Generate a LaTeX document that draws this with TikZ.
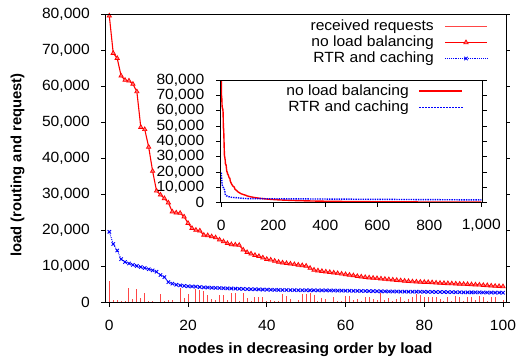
\documentclass[tikz,border=0pt]{standalone}
\usepackage{fontspec}
\newfontfamily\plotfont{Liberation Sans}[FakeStretch=1.055]
\newfontfamily\plotfontv{Liberation Sans}
\usetikzlibrary{plotmarks}

% load per node (thousands), nodes sorted by load
\def\redlist{79.7,69.3,67.9,63.0,61.8,61.6,60.7,58.6,48.7,48.1,43.2,36.5,31.0,29.9,28.9,27.7,25.2,24.9,24.8,23.8,22.0,20.6,20.1,19.9,18.7,18.6,18.3,18.0,17.4,16.9,16.4,16.1,16.0,15.9,14.6,13.9,13.5,13.1,12.8,12.4,12.0,11.8,11.5,11.2,11.0,10.85,10.7,10.55,10.4,10.25,10.1,9.5,9.0,8.8,8.65,8.5,8.35,8.2,8.05,7.9,7.75,7.6,7.45,7.25,7.1,6.95,6.85,6.75,6.65,6.55,6.45,6.35,6.25,6.15,6.05,5.95,5.85,5.75,5.7,5.65,5.6,5.55,5.5,5.4,5.35,5.3,5.25,5.2,5.15,5.1,5.05,5.0,4.95,4.9,4.85,4.75,4.7,4.6,4.5,4.45,4.4}
\def\bluelist{19.6,16.2,14.4,12.0,11.2,10.8,10.4,10.1,9.8,9.55,9.2,8.9,8.5,7.6,7.0,5.6,5.2,4.9,4.7,4.55,4.45,4.4,4.35,4.25,4.15,4.1,4.05,4.00,3.96,3.92,3.88,3.84,3.80,3.76,3.72,3.68,3.64,3.61,3.58,3.55,3.52,3.49,3.46,3.43,3.42,3.41,3.40,3.39,3.37,3.36,3.35,3.34,3.33,3.32,3.31,3.30,3.29,3.28,3.27,3.25,3.23,3.21,3.19,3.17,3.15,3.13,3.11,3.09,3.07,3.05,3.03,3.01,3.00,2.99,2.98,2.97,2.96,2.95,2.94,2.93,2.91,2.90,2.89,2.87,2.86,2.85,2.84,2.82,2.81,2.80,2.78,2.77,2.76,2.75,2.74,2.73,2.72,2.71,2.70,2.68,2.67}
\def\barlist{5.93,0.65,0.65,0.46,0.37,3.89,0.83,3.71,1.30,2.50,0.37,0.37,0.19,2.23,0.46,0.65,0.65,0.19,3.89,1.30,2.32,0.19,3.62,3.43,3.2,2.0,0.83,0.65,2.0,2.0,0.65,2.5,2.5,0.46,2.7,1.1,0.37,1.6,1.6,1.4,0.37,0.65,0.46,0.37,2.3,1.8,0.83,0.19,0.65,2.3,2.3,2.5,2.0,0.46,1.1,0.83,0.1,1.6,0.37,0.37,1.8,1.8,0.65,0.83,0.37,1.6,1.4,0.83,0.65,2.5,0.65,1.1,0.37,0.83,1.4,0.46,0.83,1.39,2.32,2.04,1.58,1.39,1.58,1.39,0.83,0.46,1.58,0.46,1.76,1.39,0.46,1.58,1.39,0.65,1.76,1.58,0.46,1.58,1.39,0.19,0.65}

\definecolor{barred}{RGB}{255,70,70}
\definecolor{trifill}{RGB}{255,120,120}

\begin{document}
\begin{tikzpicture}[x=1pt,y=1pt,
  every node/.style={inner sep=0pt, font=\plotfont\fontsize{14.8}{16}\selectfont},
  boldlabel/.style={font=\plotfont\bfseries\fontsize{14.8}{16}\selectfont},
  frame/.style={draw=black, line width=0.9pt},
  tick/.style={draw=black, line width=0.9pt},
  bar/.style={color=barred, line width=1pt},
  redline/.style={color=red, line width=1.1pt},
  blueline/.style={color=blue, line width=0.9pt, densely dotted},
  trimark/.style={color=red, line width=0.7pt, mark=triangle*, mark size=2.5pt,
    mark options={fill=trifill, draw=red, solid}},
  xmark/.style={color=blue, line width=0.9pt, mark=x, mark size=2.4pt, mark options={solid}},
  inred/.style={color=red, line width=1.4pt},
  inblue/.style={color=blue, line width=1.4pt, densely dotted},
  keydot/.style={fill=blue}]
\useasboundingbox (0,0) rectangle (517,361);

% ---------------- main plot ----------------
\begin{scope}[shift={(109.3,58.7)}, x=3.937pt, y=3.595pt]
  % received requests (impulses)
  \foreach \v [count=\i from 0] in \barlist { \draw[bar] (\i,0) -- (\i,\v); }
  % no load balancing
  \draw[redline] (0,79.7) \foreach \v [count=\i from 0] in \redlist { -- (\i,\v) };
  \foreach \v [count=\i from 0] in \redlist { \path[trimark] plot coordinates {(\i,\v)}; }
  % RTR and caching
  \draw[blueline] (0,19.6) \foreach \v [count=\i from 0] in \bluelist { -- (\i,\v) };
  \foreach \v [count=\i from 0] in \bluelist { \path[xmark] plot coordinates {(\i,\v)}; }
  % frame and ticks
  \draw[frame] (-1.09,0) rectangle (100.77,80);
  \foreach \v/\t in {0/0,10/{10,000},20/{20,000},30/{30,000},40/{40,000},50/{50,000},60/{60,000},70/{70,000},80/{80,000}} {
    \draw[tick] (-1.09,\v) -- ++(-4pt,0);
    \draw[tick] (100.77,\v) -- ++(4pt,0);
    \node[anchor=east, xshift=-15pt] (yl\v) at (-1.09,\v) {\t};
  }
  \foreach \x in {0,20,40,60,80,100} {
    \draw[tick] (\x,0) -- ++(0,-4.5pt);
    \node[yshift=-23pt] (xl\x) at (\x,0) {\x};
  }
\end{scope}

% axis titles
\node[boldlabel] (xtitle) at (305.3,11.7) {nodes in decreasing order by load};
\node[boldlabel, font=\plotfontv\bfseries\fontsize{14.8}{16}\selectfont, rotate=90] (ytitle) at (17.5,196) {load (routing and request)};

% legend
\node[anchor=east] (leg1) at (434,334.3) {received requests};
\node[anchor=east] (leg2) at (434,318.3) {no load balancing};
\node[anchor=east] (leg3) at (434,302.3) {RTR and caching};
\draw[bar] (445,334.5) -- (487,334.5);
\draw[redline] (445,318.5) -- (487,318.5);
\path[trimark] plot coordinates {(466,318.5)};
\draw[blueline] (445,302.5) -- (487,302.5);
\path[xmark] plot coordinates {(466,302.5)};

% ---------------- inset: all nodes ----------------
\begin{scope}[shift={(221.3,158.3)}, x=0.26pt, y=1.534pt]
  \fill[white] (-5,0) rectangle (1005,80);
  \begin{scope}
    \clip (-5,0) rectangle (1005,80);
    \draw[inred] (0,79.7) \foreach \v [count=\i from 0] in \redlist { -- (\i,\v) }
      -- plot[domain=100:1000, samples=60] (\x, {4.4*(100/\x)^1.1});
    \draw[inblue] (0,19.6) \foreach \v [count=\i from 0] in \bluelist { -- (\i,\v) }
      -- (1000,1.8);
  \end{scope}
  \draw[frame] (-5,0) rectangle (1005,80);
  \foreach \v/\t in {0/0,10/{10,000},20/{20,000},30/{30,000},40/{40,000},50/{50,000},60/{60,000},70/{70,000},80/{80,000}} {
    \draw[tick] (-5,\v) -- ++(-4pt,0);
    \draw[tick] (1005,\v) -- ++(4pt,0);
    \node[anchor=east, xshift=-15.5pt] (iyl\v) at (-5,\v) {\t};
  }
  \foreach \x/\t in {0/0,200/200,400/400,600/600,800/800,1000/{1,000}} {
    \draw[tick] (\x,0) -- ++(0,-4pt);
    \node[yshift=-22.3pt] (ixl\x) at (\x,0) {\t};
  }
\end{scope}

% inset legend: solid red key and dotted blue key
\node[anchor=east] (ileg1) at (409,269.3) {no load balancing};
\node[anchor=east] (ileg2) at (409,253.3) {RTR and caching};
\fill[red] (419,268.5) rectangle (462,270.5);
\foreach \k in {0,...,14} { \fill[keydot] (419+3*\k,252.5) rectangle ++(1.6,1.6); }
\end{tikzpicture}
\end{document}
